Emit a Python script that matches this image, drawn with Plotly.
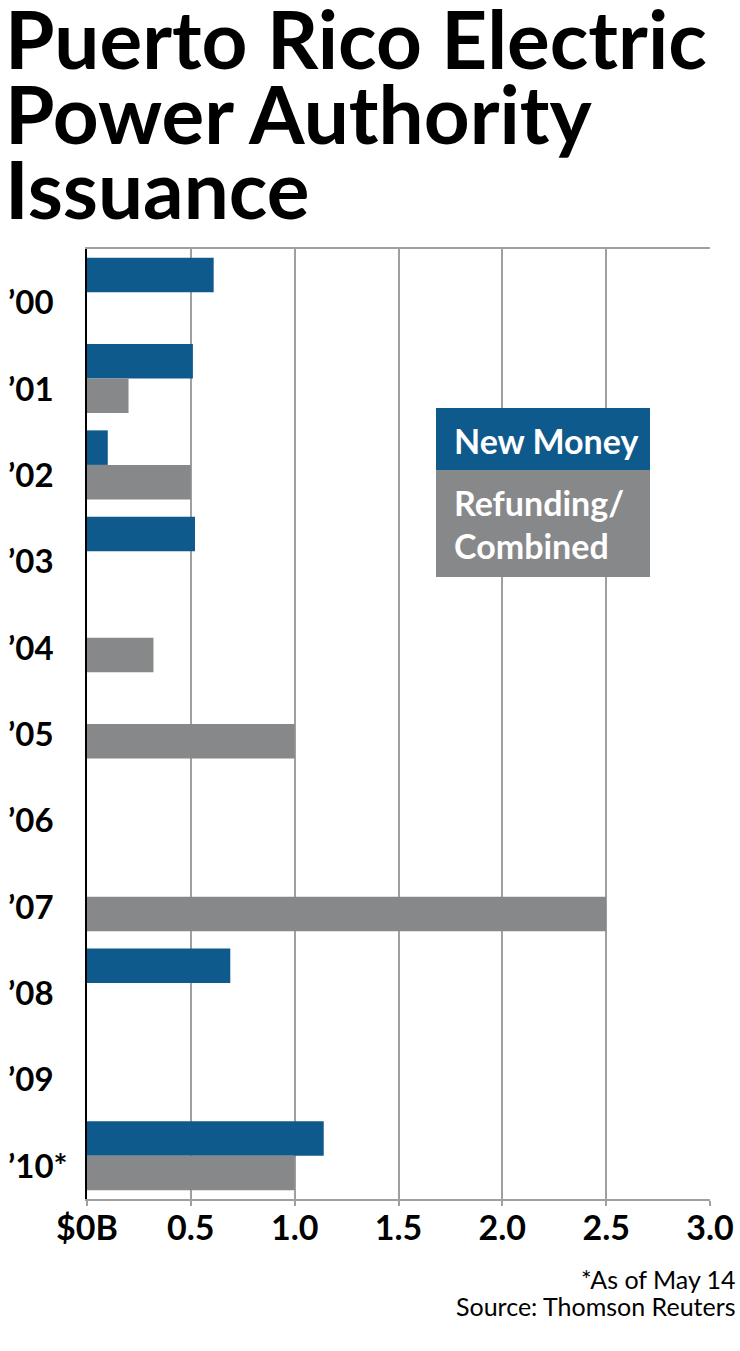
import plotly.graph_objects as go

years = ["’00", "’01", "’02", "’03", "’04", "’05", "’06", "’07", "’08", "’09", "’10*"]
new_money = [0.61, 0.51, 0.10, 0.52, None, None, None, None, 0.69, None, 1.14]
refunding = [None, 0.20, 0.50, None, 0.32, 1.00, None, 2.50, None, None, 1.00]
x_tickvals = [0, 0.5, 1.0, 1.5, 2.0, 2.5, 3.0]
x_ticktext = ["$0B", "0.5", "1.0", "1.5", "2.0", "2.5", "3.0"]
title_lines = ["Puerto Rico Electric", "Power Authority", "Issuance"]
notes = ["*As of May 14", "Source: Thomson Reuters"]

BLUE = "#0f5a8c"
GRAY = "#87888a"
FONT = "Lato, Roboto, Liberation Sans, Arial, sans-serif"

W, H = 740, 1351
L, R, T, B = 87, 30, 249, 152
PW, PH = W - L - R, H - T - B

def px(x):
    return (x - L) / PW

def py(y):
    return (H - B - y) / PH

fig = go.Figure()
fig.add_trace(go.Bar(y=years, x=new_money, orientation="h", name="New Money",
                     marker=dict(color=BLUE, line=dict(width=0))))
fig.add_trace(go.Bar(y=years, x=refunding, orientation="h", name="Refunding/Combined",
                     marker=dict(color=GRAY, line=dict(width=0))))

annotations = []
for i, line in enumerate(title_lines):
    annotations.append(dict(text=line, xref="paper", yref="paper", x=px(3), y=py(38 + 75 * i),
                            xanchor="left", yanchor="middle", showarrow=False,
                            font=dict(family=FONT, size=80, color="black", weight="bold")))
for i, line in enumerate(notes):
    annotations.append(dict(text=line, xref="paper", yref="paper", x=px(738), y=py(1279 + 27 * i),
                            xanchor="right", yanchor="middle", showarrow=False,
                            font=dict(family=FONT, size=25, color="black")))
# y category labels, left aligned, placed through the y scale
for yr in years:
    annotations.append(dict(text="<b>%s</b>" % yr, xref="paper", yref="y", x=px(6), y=yr,
                            xanchor="left", yanchor="middle", yshift=-9, showarrow=False,
                            font=dict(family=FONT, size=33, color="black")))
# legend box
annotations.append(dict(text="<b>New Money</b>", xref="paper", yref="paper", x=px(452), y=py(440),
                        xanchor="left", yanchor="middle", showarrow=False, align="left",
                        font=dict(family=FONT, size=34, color="white")))
annotations.append(dict(text="<b>Refunding/</b>", xref="paper", yref="paper", x=px(452), y=py(502),
                        xanchor="left", yanchor="middle", showarrow=False, align="left",
                        font=dict(family=FONT, size=34, color="white")))
annotations.append(dict(text="<b>Combined</b>", xref="paper", yref="paper", x=px(452), y=py(545),
                        xanchor="left", yanchor="middle", showarrow=False, align="left",
                        font=dict(family=FONT, size=34, color="white")))

shapes = [
    dict(type="rect", xref="paper", yref="paper", x0=px(436), x1=px(650), y0=py(470), y1=py(408),
         fillcolor=BLUE, line=dict(width=0), layer="above"),
    dict(type="rect", xref="paper", yref="paper", x0=px(436), x1=px(650), y0=py(577), y1=py(470),
         fillcolor=GRAY, line=dict(width=0), layer="above"),
]

fig.update_layout(
    width=W, height=H,
    margin=dict(l=L, r=R, t=T, b=B, pad=0, autoexpand=False),
    paper_bgcolor="white", plot_bgcolor="white",
    barmode="group", bargap=0.2, bargroupgap=0,
    showlegend=False,
    annotations=annotations, shapes=shapes,
    xaxis=dict(range=[0, 3.0], tickvals=x_tickvals, ticktext=x_ticktext,
               showgrid=True, gridcolor="#a0a0a0", gridwidth=2,
               showline=True, linecolor="#a0a0a0", linewidth=2, mirror=True,
               ticks="outside", ticklen=5, tickcolor="#a0a0a0", tickwidth=2,
               ticklabelstandoff=-7, automargin=False,
               tickfont=dict(family=FONT, size=34, color="black", weight="bold"),
               zeroline=False, fixedrange=True),
    yaxis=dict(categoryorder="array", categoryarray=years, range=[10.5, -0.5],
               showgrid=False, showline=True, linecolor="black", linewidth=2,
               ticks="", showticklabels=False, automargin=False,
               zeroline=False, fixedrange=True),
)

fig.write_html("out.html", config={"displayModeBar": False},
               post_script="document.body.style.margin='0';document.body.style.overflow='hidden';")
